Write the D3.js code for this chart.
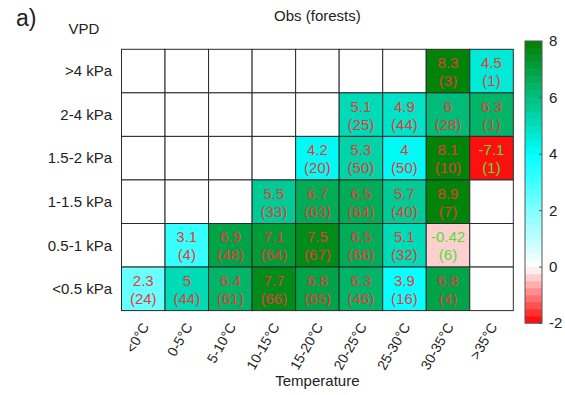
<!DOCTYPE html>
<html>
<head>
<meta charset="utf-8">
<script src="https://cdn.jsdelivr.net/npm/d3@7"></script>
<style>
  html, body { margin: 0; padding: 0; background: #fff; }
  svg { display: block; font-family: Arial, "Liberation Sans", Helvetica, sans-serif; }
</style>
</head>
<body>
<svg id="chart" width="565" height="395"></svg>
<script>
// Temperature bins (columns) and VPD bins (rows, top to bottom)
const temps = ["<0°C", "0-5°C", "5-10°C", "10-15°C", "15-20°C", "20-25°C", "25-30°C", "30-35°C", ">35°C"];
const vpds = [">4 kPa", "2-4 kPa", "1.5-2 kPa", "1-1.5 kPa", "0.5-1 kPa", "<0.5 kPa"];

// Mean value per cell (null = no data)
const values = [
  [null, null, null, null, null, null, null, 8.3, 4.5],
  [null, null, null, null, null, 5.1, 4.9, 6, 6.3],
  [null, null, null, null, 4.2, 5.3, 4, 8.1, -7.1],
  [null, null, null, 5.5, 6.7, 6.5, 5.7, 8.9, null],
  [null, 3.1, 6.9, 7.1, 7.5, 6.5, 5.1, -0.42, null],
  [2.3, 5, 6.4, 7.7, 6.8, 6.3, 3.9, 6.8, null]
];

// Number of samples per cell
const counts = [
  [null, null, null, null, null, null, null, 3, 1],
  [null, null, null, null, null, 25, 44, 28, 1],
  [null, null, null, null, 20, 50, 50, 10, 1],
  [null, null, null, 33, 63, 64, 40, 7, null],
  [null, 4, 48, 64, 67, 66, 32, 6, null],
  [24, 44, 61, 66, 65, 46, 16, 4, null]
];

const colorTicks = [-2, 0, 2, 4, 6, 8];

const svg = d3.select("#chart");

// Diverging colormap: red -> white -> cyan -> green, in 40 discrete steps
const cmin = -2, cmax = 8, nSteps = 40;
const base = d3.scaleLinear()
  .domain([-2, 0, 4, 8])
  .range(["rgb(255,0,0)", "rgb(255,255,255)", "rgb(0,255,255)", "rgb(0,128,0)"])
  .interpolate(d3.interpolateRgb)
  .clamp(true);
const stepW = (cmax - cmin) / nSteps;
const palette = d3.range(nSteps).map(i => base(cmin + (i + 0.5) * stepW));
const color = d3.scaleQuantize().domain([cmin, cmax]).range(palette);
const colorOf = v => color(Math.max(cmin, Math.min(cmax - 1e-9, v)));

const x = d3.scaleBand().domain(temps).range([121.5, 513.3]);
const y = d3.scaleBand().domain(vpds).range([49.3, 310.6]);

// Cells
const cells = [];
vpds.forEach((r, i) => temps.forEach((c, j) => {
  cells.push({ r, c, v: values[i][j], n: counts[i][j] });
}));

svg.append("g").selectAll("rect").data(cells).join("rect")
  .attr("x", d => x(d.c))
  .attr("y", d => y(d.r))
  .attr("width", x.bandwidth())
  .attr("height", y.bandwidth())
  .attr("fill", d => d.v == null ? "#fff" : colorOf(d.v))
  .attr("stroke", "#2a2a2a")
  .attr("stroke-width", 1);

// Cell labels: value and sample count
const lab = svg.append("g").attr("font-size", 15).attr("text-anchor", "middle");
cells.filter(d => d.v != null).forEach(d => {
  const cx = x(d.c) + x.bandwidth() / 2;
  const cy = y(d.r) + y.bandwidth() / 2;
  const fill = d.v < 0 ? "#4be03a" : "#e33a3a";
  lab.append("text").attr("x", cx).attr("y", cy - 3).attr("fill", fill).text(d.v);
  lab.append("text").attr("x", cx).attr("y", cy + 15).attr("fill", fill).text("(" + d.n + ")");
});

// Row labels
svg.append("g").attr("font-size", 15).attr("text-anchor", "end").attr("fill", "#222")
  .selectAll("text").data(vpds).join("text")
  .attr("x", 112)
  .attr("y", d => y(d) + y.bandwidth() / 2)
  .attr("dy", "0.35em")
  .text(d => d);

// Column labels, rotated
svg.append("g").attr("font-size", 14).attr("text-anchor", "end").attr("fill", "#222")
  .selectAll("text").data(temps).join("text")
  .attr("transform", d => `translate(${x(d) + x.bandwidth() / 2 + 2},${324}) rotate(-60)`)
  .attr("dy", "0.35em")
  .text(d => d);

// Titles
const gridMid = (x.range()[0] + x.range()[1]) / 2;
svg.append("text").attr("x", gridMid).attr("y", 21).attr("text-anchor", "middle")
  .attr("font-size", 15).attr("fill", "#222").text("Obs (forests)");
svg.append("text").attr("x", gridMid).attr("y", 386).attr("text-anchor", "middle")
  .attr("font-size", 15).attr("fill", "#222").text("Temperature");
svg.append("text").attr("x", 84).attr("y", 34).attr("text-anchor", "middle")
  .attr("font-size", 15).attr("fill", "#222").text("VPD");
svg.append("text").attr("x", 16).attr("y", 26)
  .attr("font-size", 23).attr("fill", "#222").text("a)");

// Colorbar
const cb = d3.scaleLinear().domain([cmin, cmax]).range([323, 41]);
const cbX = 525, cbW = 17;
const cbg = svg.append("g");
cbg.selectAll("rect").data(palette).join("rect")
  .attr("x", cbX)
  .attr("y", (d, i) => cb(cmin + (i + 1) * stepW))
  .attr("width", cbW)
  .attr("height", (d, i) => cb(cmin + i * stepW) - cb(cmin + (i + 1) * stepW) + 0.5)
  .attr("fill", d => d);
cbg.append("rect").attr("x", cbX).attr("y", cb(cmax)).attr("width", cbW)
  .attr("height", cb(cmin) - cb(cmax)).attr("fill", "none").attr("stroke", "#555").attr("stroke-width", 1);

const axis = d3.axisRight(cb).tickValues(colorTicks).tickSize(0).tickPadding(7).tickFormat(d => String(d));
const ag = svg.append("g").attr("transform", `translate(${cbX + cbW},0)`).call(axis);
ag.select(".domain").remove();
ag.selectAll("text").attr("font-size", 15).attr("fill", "#222")
  .attr("font-family", "Arial, 'Liberation Sans', sans-serif");
ag.selectAll(".tick").append("line").attr("x1", -3).attr("x2", 0).attr("stroke", "#555");
</script>
</body>
</html>
